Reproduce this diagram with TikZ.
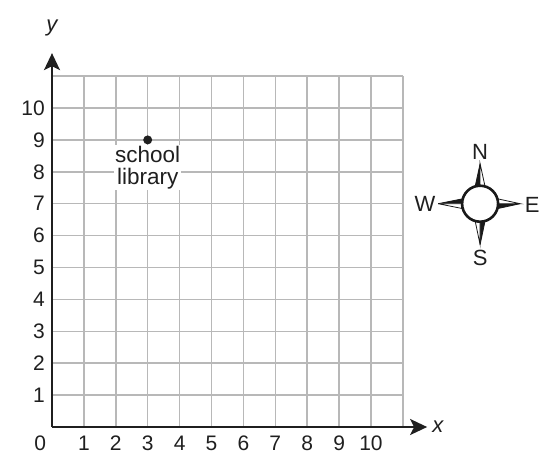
\documentclass[tikz,border=0pt]{standalone}
\usepackage{fontspec}
\setmainfont{Liberation Sans}
\usetikzlibrary{arrows.meta}
\begin{document}
\begin{tikzpicture}[x=31.9pt,y=31.9pt,
  gridline/.style={draw=black!28,line width=1.5pt},
  axisline/.style={draw=black!88,line width=2pt,-{Stealth[length=17pt,width=16pt,inset=4pt]}},
  ticklab/.style={font=\fontsize{21}{24}\selectfont,text=black!88,inner sep=0pt},
  axislab/.style={font=\fontsize{22}{24}\selectfont\itshape,text=black!88,inner sep=0pt},
  complab/.style={font=\fontsize{22}{24}\selectfont,text=black!88,inner sep=0pt},
  spike/.style={line width=0.8pt,draw=black!90,line join=miter}]
\useasboundingbox (-1.630,-1.317) rectangle (15.831,13.386);
% grid
\foreach \i in {1,...,11} {
  \draw[gridline] (\i,0) -- (\i,11);
  \draw[gridline] (0,\i) -- (11,\i);
}
% axes
\coordinate (O) at (0,0);
\coordinate (xend) at (11.76,0);
\coordinate (yend) at (0,11.72);
\draw[axisline] (O) -- (xend);
\draw[axisline] (O) -- (yend);
\node[axislab] (xl) at (12.1,0) {x};
\node[axislab] (yl) at (0,12.52) {y};
% tick labels
\node[ticklab] (t0) at (-0.37,-0.5) {0};
\foreach \i in {1,...,10} {
  \node[ticklab] (tx\i) at (\i,-0.5) {\i};
  \node[ticklab,anchor=east] (ty\i) at (-0.22,\i) {\i};
}
% school library
\fill[black!88] (3,9) circle (4.5pt) coordinate (lib);
\node[fill=white,align=center,inner sep=1pt,anchor=north,
  font=\fontsize{22.5}{22}\selectfont,text=black!88] (libtext) at (3,8.85) {school\\library};
% compass
\coordinate (C) at (13.42,7);
\begin{scope}[shift={(C)},x=1pt,y=1pt]
  % N: west half black
  \fill[black!90] (0,40) -- (-5,17) -- (0,17) -- cycle;
  \draw[spike,fill=white] (0,40) -- (5,17) -- (0,17) -- cycle;
  \draw[spike] (0,40) -- (-5,17);
  % S: east half black
  \fill[black!90] (0,-41) -- (5,-17) -- (0,-17) -- cycle;
  \draw[spike,fill=white] (0,-41) -- (-5,-17) -- (0,-17) -- cycle;
  \draw[spike] (0,-41) -- (5,-17);
  % W: north half black
  \fill[black!90] (-42,0) -- (-17,5) -- (-17,0) -- cycle;
  \draw[spike,fill=white] (-42,0) -- (-17,-5) -- (-17,0) -- cycle;
  \draw[spike] (-42,0) -- (-17,5);
  % E: south half black
  \fill[black!90] (40,0) -- (17,-5) -- (17,0) -- cycle;
  \draw[spike,fill=white] (40,0) -- (17,5) -- (17,0) -- cycle;
  \draw[spike] (40,0) -- (17,-5);
  \draw[black!90,line width=2.6pt,fill=white] (0,0) circle (18pt);
  \node[complab] (N) at (0,52) {N};
  \node[complab] (S) at (0,-54) {S};
  \node[complab] (W) at (-55,0) {W};
  \node[complab] (E) at (52,-1) {E};
\end{scope}
\end{tikzpicture}
\end{document}
